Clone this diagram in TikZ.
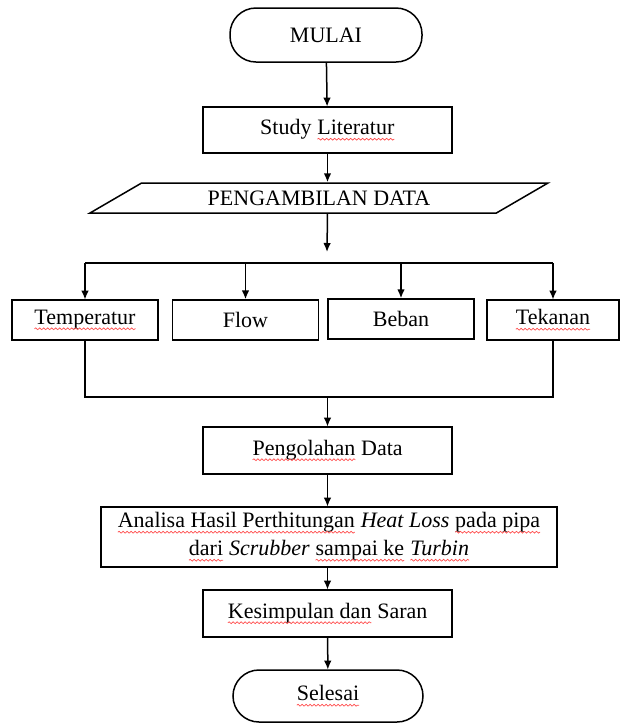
\documentclass[tikz,border=0pt]{standalone}
\usepackage{fontspec}
\setmainfont{Liberation Serif}
\usetikzlibrary{shapes.geometric, decorations.pathmorphing, arrows.meta}
\newcommand\salah[1]{\tikz[baseline=(w.base), sharp corners]{\node[inner sep=0pt, outer sep=0pt, minimum size=0pt] (w) {#1};
    \draw[red!70, line width=0.35pt, sharp corners, decorate, decoration={snake, amplitude=0.45pt, segment length=2pt}]
        ([yshift=-2.2pt]w.base west) -- ([yshift=-2.2pt]w.base east);}}
\begin{document}
\begin{tikzpicture}[>={Latex[length=4.5pt, width=3.8pt]}, x=0.5pt, y=-0.5pt, line width=0.75pt,
    font=\fontsize{11}{14}\selectfont,
    kotak/.style={draw, minimum width=124.5pt, minimum height=23pt, inner sep=2pt},
    kecil/.style={draw, minimum width=73pt, minimum height=20pt, inner sep=2pt},
    ujung/.style={draw, rounded corners=13pt, minimum width=96pt, minimum height=27pt},
    jajar/.style={draw, trapezium, trapezium left angle=20, trapezium right angle=160,
        trapezium stretches body, minimum width=229pt, minimum height=15pt, inner sep=1pt}]
    \useasboundingbox (0,0) rectangle (621,725);
    % alur atas
    \node[ujung] (mulai) at (326,35) {MULAI};
    \node[kotak] (studi) at (327.5,130) {Study \salah{Literatur}};
    \node[jajar] (data) at (319,198) {PENGAMBILAN DATA};
    \coordinate (cabang) at (327,252);
    \coordinate (garis) at (0,263);
    % empat data
    \node[kecil] (temp) at (85,320) {\salah{Temperatur}};
    \node[kecil] (flow) at (245.5,320) {Flow};
    \node[kecil] (beban) at (401,319) {Beban};
    \node[kecil, minimum width=66pt] (tekanan) at (553,320) {\salah{Tekanan}};
    \coordinate (gabung) at (0,397);
    % alur bawah
    \node[kotak, minimum height=23.5pt] (olah) at (327.5,450.5) {\salah{Pengolahan} Data};
    \node[draw, minimum width=228pt, minimum height=30pt, inner sep=2pt, align=center] (analisa) at (329,537)
        {\salah{Analisa Hasil Perthitungan} \emph{Heat Loss} \salah{pada pipa}\\
         \salah{dari} \emph{Scrubber} \salah{sampai ke} \salah{\emph{Turbin}}};
    \node[kotak, minimum height=23.5pt] (simpul) at (327.5,613.5) {\salah{Kesimpulan dan} Saran};
    \node[ujung, minimum width=95pt, minimum height=26pt] (selesai) at (328,696) {\salah{Selesai}};

    \draw[->] (mulai) -- (studi);
    \draw[->] (studi) -- (studi |- data.north);
    \draw[->] (studi |- data.south) -- (cabang);
    \draw (garis -| temp) -- (garis -| tekanan);
    \foreach \n in {temp, flow, beban, tekanan}
        \draw[->] (garis -| \n) -- (\n);
    \draw (temp) -- (gabung -| temp) -- (gabung -| tekanan) -- (tekanan);
    \draw[->] (gabung -| olah) -- (olah);
    \draw[->] (olah) -- (olah |- analisa.north);
    \draw[->] (simpul |- analisa.south) -- (simpul);
    \draw[->] (simpul) -- (selesai);
\end{tikzpicture}
\end{document}
